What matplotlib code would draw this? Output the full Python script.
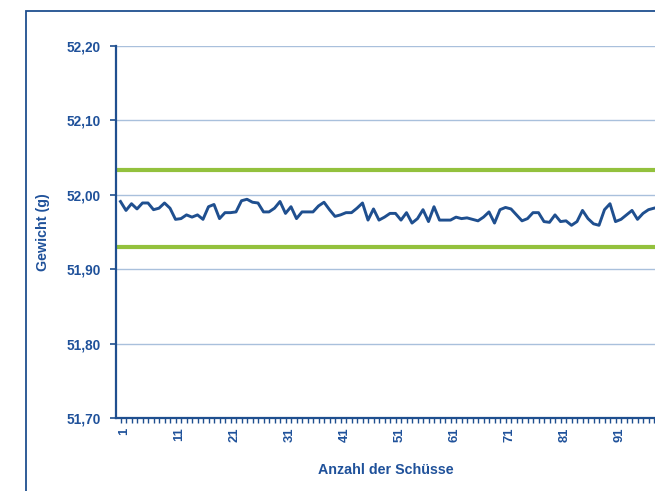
import matplotlib
matplotlib.use("Agg")
import matplotlib.pyplot as plt
import matplotlib.transforms as mtransforms
from matplotlib.patches import Rectangle

# Data
weights = [
    51.991, 51.979, 51.988, 51.981, 51.989, 51.989, 51.980, 51.982, 51.989, 51.982,
    51.967, 51.968, 51.973, 51.970, 51.973, 51.967, 51.984, 51.987, 51.968, 51.976,
    51.976, 51.977, 51.992, 51.994, 51.990, 51.989, 51.977, 51.977, 51.982, 51.991,
    51.975, 51.984, 51.968, 51.977, 51.977, 51.977, 51.985, 51.990, 51.980, 51.971,
    51.973, 51.976, 51.976, 51.982, 51.989, 51.966, 51.981, 51.966, 51.970, 51.975,
    51.975, 51.966, 51.976, 51.962, 51.968, 51.980, 51.964, 51.984, 51.966, 51.966,
    51.966, 51.970, 51.968, 51.969, 51.967, 51.965, 51.970, 51.977, 51.962, 51.980,
    51.983, 51.981, 51.973, 51.965, 51.968, 51.976, 51.976, 51.964, 51.963, 51.973,
    51.964, 51.965, 51.959, 51.964, 51.979, 51.968, 51.961, 51.959, 51.980, 51.988,
    51.964, 51.967, 51.973, 51.979, 51.967, 51.975, 51.980, 51.982,
]
shots = list(range(1, len(weights) + 1))
upper_limit = 52.034
lower_limit = 51.930
y_ticks = [51.70, 51.80, 51.90, 52.00, 52.10, 52.20]
x_label_every = 10

DARK = "#1f4f8f"
TEXT = "#1f519a"
GRID = "#a9c0dc"
GREEN = "#93c13d"

plt.rcParams['font.family'] = ['Liberation Sans', 'DejaVu Sans']

W, H = 655, 491
fig = plt.figure(figsize=(W / 100, H / 100), dpi=100)

# outer frame
fig.patches.append(Rectangle((26 / W, -0.2), 1.5, 1.2 - 11 / H,
                             transform=fig.transFigure, fill=False,
                             edgecolor=DARK, linewidth=1.3, zorder=0))

ax = fig.add_axes([116 / W, 1 - 418 / H, (W - 116) / W, (418 - 46) / H])
ax.set_facecolor("none")

ax.set_ylim(51.70, 52.20)
left = 1 - 4.5 / 5.5
ax.set_xlim(left, left + (W - 116) / 5.5)

ax.set_yticks(y_ticks)
ax.set_yticklabels([f"{v:.2f}".replace(".", ",") for v in y_ticks])
ax.yaxis.grid(True, color=GRID, linewidth=1.0)
ax.set_axisbelow(True)

ax.set_xticks(shots)
ax.set_xticklabels([str(s) if (s - 1) % x_label_every == 0 else "" for s in shots],
                   rotation=90)

ax.axhline(upper_limit, color=GREEN, linewidth=3.0, zorder=2)
ax.axhline(lower_limit, color=GREEN, linewidth=3.0, zorder=2)
ax.plot(shots, weights, color=DARK, linewidth=2.1, zorder=3, clip_on=False)

for s in ["top", "right"]:
    ax.spines[s].set_visible(False)
for s in ["left", "bottom"]:
    ax.spines[s].set_color(DARK)
    ax.spines[s].set_linewidth(1.6)

ax.tick_params(axis="y", colors=DARK, labelcolor=TEXT, length=4, width=1.2,
               pad=7, labelsize=9.8)
ax.tick_params(axis="x", colors=DARK, labelcolor=TEXT, length=3.5, width=1.0,
               pad=3.5, labelsize=9.4)
shift = mtransforms.ScaledTranslation(4 / 100, 0, fig.dpi_scale_trans)
for lab in ax.get_xticklabels():
    lab.set_fontweight("bold")
    lab.set_transform(lab.get_transform() + shift)
for lab in ax.get_yticklabels():
    lab.set_fontweight("bold")

ax.set_xlabel("Anzahl der Schüsse", color=TEXT, fontsize=10.3, fontweight="bold",
              va="center")
ax.xaxis.set_label_coords(0.5, (418 - 470) / (418 - 46))
ax.set_ylabel("Gewicht (g)", color=TEXT, fontsize=10.3, fontweight="bold",
              va="center", ha="center")
ax.yaxis.set_label_coords((43 - 116) / (W - 116), 0.5)

fig.savefig("out.png", dpi=100)
